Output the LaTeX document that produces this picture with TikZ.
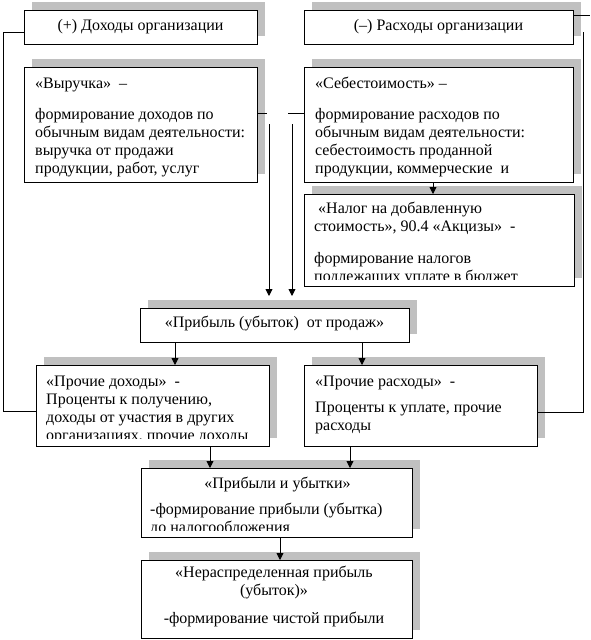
\documentclass[tikz,border=0pt]{standalone}
\usepackage{fontspec}
\setmainfont{Liberation Serif}
\usetikzlibrary{arrows.meta,fit}
\definecolor{shgray}{HTML}{C0C0C0}
\tikzset{
  boxframe/.style={draw=black, fill=white, line width=0.9pt, inner sep=0pt, outer sep=0pt},
  shadowfill/.style={fill=shgray},
  txt/.style={font=\fontsize{16}{18}\selectfont, inner sep=0pt, align=left, anchor=north west},
  ctxt/.style={font=\fontsize{16}{18}\selectfont, inner sep=0pt, align=center},
  conn/.style={draw=black, line width=0.9pt},
  arr/.style={conn, -{Triangle[length=7pt,width=7pt]}},
}
\newcommand\mkbox[5]{\fill[shadowfill] (#2+8,#3-8) rectangle (#4+8,#5-8);
  \node[boxframe, fit={(#2,#3) (#4,#5)}] (#1) {};}
\begin{document}
\begin{tikzpicture}[x=1pt,y=-1pt]
\useasboundingbox (0,0) rectangle (590,640);
% boxes
\mkbox{b1}{24}{10}{257}{44}
\mkbox{b2}{304}{10}{573}{44}
\mkbox{b3}{24}{67}{257}{182}
\mkbox{b4}{304}{67}{573}{182}
\mkbox{b5}{304}{194}{574}{286}
\mkbox{b6}{140}{308}{409}{342}
\mkbox{b7}{36}{365}{269}{446}
\mkbox{b8}{304}{365}{537}{446}
\mkbox{b9}{141}{468}{412}{537}
\mkbox{b10}{141}{560}{412}{638}
% texts
\node[ctxt, anchor=base] (t1) at (140.5,30) {(+) Доходы организации};
\node[ctxt, anchor=base] (t2) at (438.5,30) {(–) Расходы организации};
\begin{scope}
\clip (24,67) rectangle (257,181);
\node[txt] (t3) at (35,75.9) {\strut«Выручка»\ \ –\\[13pt]формирование доходов по\\обычным видам деятельности:\\выручка от продажи\\продукции, работ, услуг};
\end{scope}
\begin{scope}
\clip (304,67) rectangle (573,181);
\node[txt] (t4) at (315,75.9) {\strut«Себестоимость» –\\[13pt]формирование расходов по\\обычным видам деятельности:\\себестоимость проданной\\продукции, коммерческие\ \ и};
\end{scope}
\begin{scope}
\clip (304,194) rectangle (574,279);
\node[txt] (t5) at (314,200.4) {\strut\ «Налог на добавленную\\стоимость», 90.4 «Акцизы»\ \ -\\[14pt]формирование налогов\\подлежащих уплате в бюджет};
\end{scope}
\node[ctxt, anchor=base] (t6) at (274.5,327) {«Прибыль (убыток)\ \ от продаж»};
\begin{scope}
\clip (36,365) rectangle (269,438);
\node[txt] (t7) at (46,373.4) {\strut«Прочие доходы»\ \ -\\Проценты к получению,\\доходы от участия в других\\организациях, прочие доходы};
\end{scope}
\node[txt] (t8) at (315,373.4) {\strut«Прочие расходы»\ \ -\\[8pt]Проценты к уплате, прочие\\расходы};
\node[ctxt, anchor=base] (t9a) at (277.5,488) {«Прибыли и убытки»};
\begin{scope}
\clip (141,468) rectangle (412,530.5);
\node[txt] (t9b) at (150,501.4) {\strut-формирование прибыли (убытка)\\до налогообложения};
\end{scope}
\node[ctxt, anchor=north] (t10) at (274,564.9) {\strut«Нераспределенная прибыль\\(убыток)»\\[10pt]-формирование чистой прибыли};
% connectors
\coordinate (lA) at (3,32);
\coordinate (lB) at (3,411);
\draw[conn] (b1.west |- lA) -- (lA) -- (lB) -- (b7.west |- lB);
\coordinate (rS) at (590,15);
\draw[conn] (b2.east |- rS) -- (rS);
\coordinate (rA) at (583,32);
\coordinate (rB) at (583,412);
\draw[conn] (rA) -- (rB) -- (b8.east |- rB);
\coordinate (s3) at (267,113);
\draw[conn] (b3.east |- s3) -- (s3);
\coordinate (v3a) at (269,124);
\coordinate (v3b) at (269,296);
\draw[arr] (v3a) -- (v3b);
\coordinate (s4) at (288,113);
\draw[conn] (s4) -- (b4.west |- s4);
\coordinate (v4a) at (292,124);
\coordinate (v4b) at (292,296);
\draw[arr] (v4a) -- (v4b);
\draw[arr] (b4.south -| 433,0) -- (b5.north -| 433,0);
\draw[arr] (b6.south -| 175,0) -- (b7.north -| 175,0);
\draw[arr] (b6.south -| 362,0) -- (b8.north -| 362,0);
\draw[arr] (b7.south -| 210,0) -- (b9.north -| 210,0);
\draw[arr] (b8.south -| 350,0) -- (b9.north -| 350,0);
\draw[arr] (b9.south -| 280,0) -- (b10.north -| 280,0);
\end{tikzpicture}
\end{document}
